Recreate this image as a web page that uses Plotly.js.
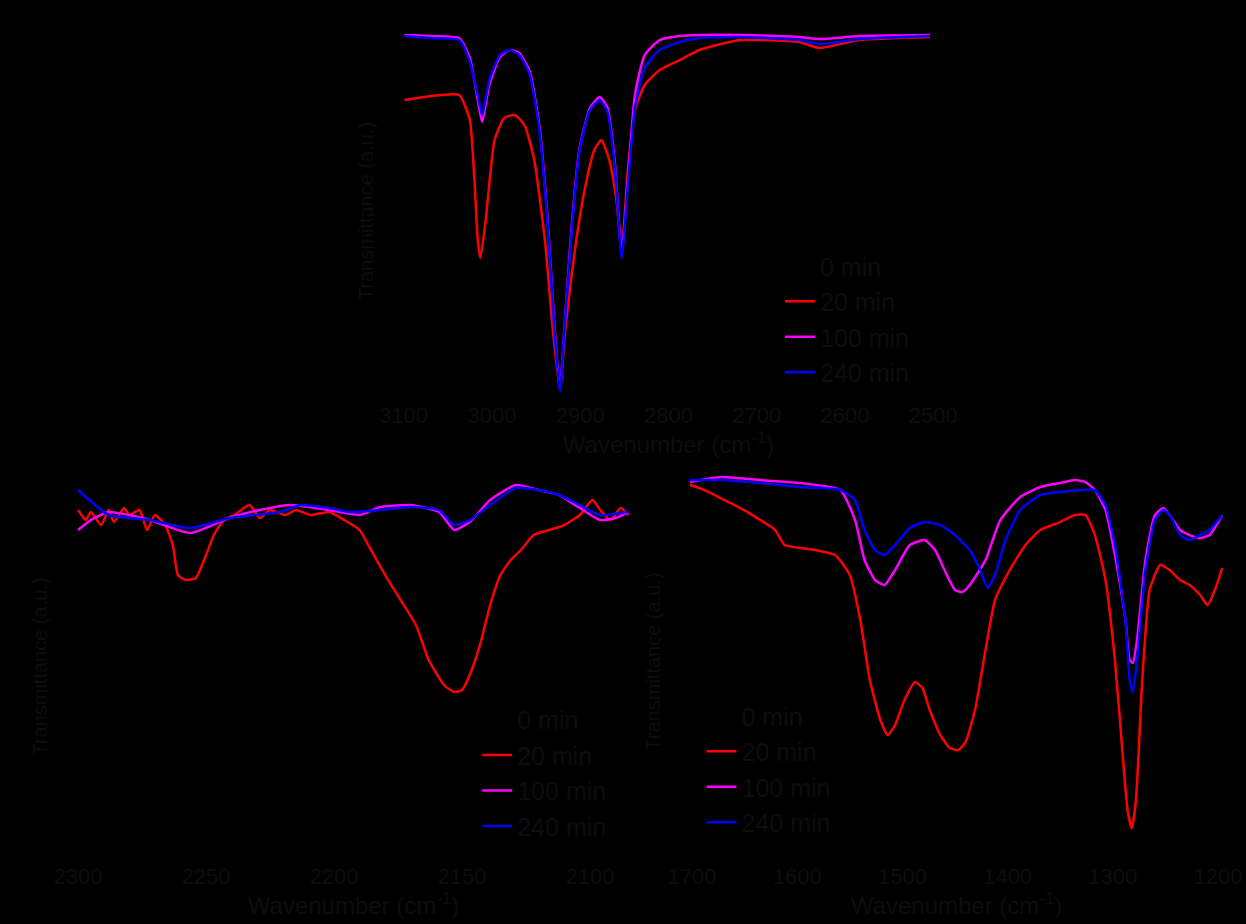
<!DOCTYPE html>
<html>
<head>
<meta charset="utf-8">
<script src="https://cdn.plot.ly/plotly-3.0.1.min.js"></script>
<style>html,body{margin:0;padding:0;background:#000;}#chart{width:1246px;height:924px;}</style>
</head>
<body>
<div id="chart"></div>
<script>
// ---------- Panel A: 3100-2500 cm-1 ----------
const topWnMB = [3099,3071,3037,3025,3016,3011,3003,2991,2980,2969,2957,2946,2937,2929,2923,2918,2910,2901,2889,2878,2869,2861,2853,2846,2838,2827,2810,2787,2765,2719,2652,2629,2584,2504];
const topT0   = [4.16,4.15,4.13,3.95,3.62,3.42,3.75,3.98,4.03,3.98,3.80,3.25,2.35,1.25,0.62,1.25,2.25,3.02,3.45,3.55,3.45,2.95,2.00,2.75,3.50,3.90,4.05,4.12,4.15,4.15,4.13,4.10,4.13,4.15];
const topT100 = [4.15,4.14,4.12,3.92,3.50,3.28,3.65,3.93,4.00,3.97,3.78,3.22,2.32,1.22,0.60,1.20,2.20,3.00,3.42,3.53,3.42,2.90,1.95,2.70,3.55,3.95,4.10,4.14,4.15,4.15,4.13,4.11,4.14,4.15];
const topT240 = [4.14,4.12,4.10,3.88,3.55,3.35,3.70,3.95,4.00,3.95,3.75,3.18,2.28,1.18,0.58,1.18,2.15,2.98,3.40,3.50,3.38,2.85,1.92,2.65,3.42,3.82,4.00,4.08,4.12,4.13,4.10,4.06,4.11,4.14];
const topWnR  = [3099,3059,3037,3025,3016,3013,3007,2997,2986,2974,2963,2952,2940,2931,2923,2917,2906,2895,2884,2876,2867,2859,2853,2846,2838,2827,2810,2787,2765,2719,2652,2629,2584,2504];
const topT20  = [3.50,3.55,3.55,3.30,2.10,1.92,2.30,3.10,3.32,3.35,3.25,2.90,2.10,1.20,0.60,1.20,2.00,2.60,3.00,3.10,2.90,2.50,2.00,2.80,3.40,3.65,3.80,3.90,4.00,4.10,4.08,4.02,4.10,4.13];

// ---------- Panel B: 2300-2085 cm-1 ----------
const blWnB = [2300,2288,2272,2256,2241,2221,2213,2202,2194,2182,2170,2159,2153,2147,2139,2129,2120,2112,2104,2096,2085];
const blT0   = [3.05,2.88,2.82,2.75,2.84,2.90,2.96,2.93,2.90,2.92,2.94,2.91,2.78,2.82,2.96,3.10,3.08,3.03,2.94,2.86,2.88];
const blT240 = [3.10,2.85,2.80,2.72,2.82,2.88,2.95,2.92,2.88,2.90,2.93,2.90,2.75,2.80,2.95,3.12,3.10,3.05,2.95,2.85,2.88];
const blWnM = [2300,2295,2288,2280,2272,2256,2241,2229,2217,2202,2190,2182,2170,2159,2153,2147,2139,2129,2120,2112,2104,2096,2090,2085];
const blT100 = [2.70,2.80,2.88,2.85,2.80,2.67,2.82,2.90,2.95,2.90,2.85,2.93,2.95,2.88,2.70,2.78,3.00,3.15,3.10,3.05,2.92,2.80,2.82,2.88];
const blWnR = [2300,2297,2295,2291,2288,2286,2282,2280,2276,2273,2270,2266,2263,2261,2258,2254,2250,2247,2243,2239,2233,2229,2225,2219,2215,2209,2202,2196,2190,2186,2180,2174,2168,2163,2157,2153,2150,2147,2143,2139,2135,2131,2127,2122,2116,2110,2104,2099,2096,2092,2088,2085];
const blT20  = [2.90,2.80,2.88,2.75,2.90,2.78,2.92,2.85,2.90,2.70,2.85,2.75,2.55,2.25,2.20,2.22,2.45,2.65,2.80,2.85,2.95,2.82,2.90,2.85,2.90,2.85,2.88,2.80,2.70,2.52,2.25,2.00,1.75,1.40,1.15,1.08,1.10,1.25,1.55,1.95,2.25,2.40,2.50,2.65,2.70,2.75,2.85,3.00,2.90,2.80,2.92,2.85];

// ---------- Panel C: 1700-1200 cm-1 ----------
const brWnB = [1702,1673,1635,1597,1559,1545,1536,1526,1517,1507,1493,1479,1464,1450,1436,1426,1419,1412,1402,1388,1369,1350,1331,1317,1307,1298,1288,1284,1281,1277,1269,1260,1252,1246,1236,1227,1217,1208,1196];
const brT0   = [4.22,4.21,4.18,4.15,4.12,4.03,3.75,3.55,3.50,3.58,3.75,3.80,3.78,3.68,3.55,3.35,3.18,3.30,3.63,3.92,4.07,4.10,4.12,4.11,3.97,3.58,2.85,2.25,2.12,2.45,3.35,3.82,3.92,3.87,3.68,3.62,3.67,3.72,3.86];
const brT240 = [4.20,4.20,4.17,4.13,4.10,4.00,3.70,3.50,3.45,3.55,3.72,3.78,3.75,3.65,3.50,3.30,3.12,3.25,3.60,3.90,4.05,4.08,4.10,4.10,3.95,3.55,2.80,2.20,2.08,2.40,3.30,3.80,3.90,3.85,3.65,3.60,3.65,3.70,3.85];
const brWnM = [1702,1673,1635,1597,1559,1545,1536,1526,1517,1507,1493,1479,1469,1460,1450,1443,1436,1421,1407,1388,1369,1350,1336,1326,1317,1307,1298,1288,1284,1281,1277,1269,1260,1252,1246,1236,1227,1217,1208,1196];
const brT100 = [4.18,4.23,4.20,4.17,4.10,3.80,3.40,3.20,3.15,3.30,3.55,3.60,3.50,3.30,3.10,3.08,3.15,3.40,3.80,4.03,4.13,4.17,4.20,4.18,4.10,3.90,3.45,2.80,2.40,2.37,2.60,3.40,3.85,3.92,3.85,3.70,3.65,3.62,3.65,3.85];
const brWnR = [1702,1688,1673,1654,1635,1621,1612,1597,1583,1564,1550,1540,1531,1521,1514,1507,1498,1488,1481,1474,1464,1455,1447,1440,1431,1421,1412,1398,1383,1369,1350,1336,1326,1317,1307,1298,1291,1286,1282,1278,1272,1265,1255,1246,1236,1227,1217,1210,1203,1196];
const brT20  = [4.15,4.10,4.02,3.92,3.80,3.70,3.55,3.52,3.50,3.45,3.25,2.80,2.20,1.80,1.65,1.75,2.00,2.18,2.12,1.90,1.65,1.52,1.50,1.58,1.90,2.50,3.00,3.30,3.55,3.70,3.78,3.85,3.85,3.65,3.20,2.40,1.50,0.90,0.72,1.00,2.20,3.10,3.35,3.30,3.20,3.15,3.05,2.95,3.10,3.32];

const seriesNames = ['0 min','20 min','100 min','240 min'];
const seriesColors = ['#000000','#ff0000','#ff00ff','#0000ff'];
const xTitle = 'Wavenumber (cm<sup>-1</sup>)';
const yTitle = 'Transmittance (a.u.)';

const txt = '#0d0d0d';
const fnt = 'Liberation Sans Narrow, Liberation Sans, Arial, sans-serif';

function mk(x, y, i, xa, ya, leg) {
  return {x: x, y: y, type: 'scatter', mode: 'lines', name: seriesNames[i],
    line: {color: seriesColors[i], width: 2.5, shape: 'spline', smoothing: 0.5},
    xaxis: xa, yaxis: ya, legend: leg};
}

const data = [
  mk(topWnMB, topT0, 0, 'x', 'y', 'legend'),
  mk(topWnR, topT20, 1, 'x', 'y', 'legend'),
  mk(topWnMB, topT100, 2, 'x', 'y', 'legend'),
  mk(topWnMB, topT240, 3, 'x', 'y', 'legend'),
  mk(blWnB, blT0, 0, 'x2', 'y2', 'legend2'),
  mk(blWnR, blT20, 1, 'x2', 'y2', 'legend2'),
  mk(blWnM, blT100, 2, 'x2', 'y2', 'legend2'),
  mk(blWnB, blT240, 3, 'x2', 'y2', 'legend2'),
  mk(brWnB, brT0, 0, 'x3', 'y3', 'legend3'),
  mk(brWnR, brT20, 1, 'x3', 'y3', 'legend3'),
  mk(brWnM, brT100, 2, 'x3', 'y3', 'legend3'),
  mk(brWnB, brT240, 3, 'x3', 'y3', 'legend3')
];

function xax(dom, range, dtick, anchor) {
  return {domain: dom, range: range, anchor: anchor, dtick: dtick, tick0: 0,
    showgrid: false, zeroline: false, showline: true, linecolor: '#000', linewidth: 1.5,
    ticks: 'outside', tickcolor: '#000', ticklen: 3,
    tickfont: {family: fnt, size: 22, color: txt},
    title: {text: xTitle, font: {family: fnt, size: 24, color: txt}, standoff: 2}};
}
function yax(dom, range, anchor) {
  return {domain: dom, range: range, anchor: anchor, showticklabels: false,
    showgrid: false, zeroline: false, showline: true, linecolor: '#000', linewidth: 1.5, ticks: '',
    title: {text: yTitle, font: {family: fnt, size: 20, color: txt}, standoff: 20}};
}
function leg(x, y) {
  return {x: x, y: y, xanchor: 'left', yanchor: 'top', bgcolor: 'rgba(0,0,0,0)',
    font: {family: fnt, size: 25, color: txt}, tracegroupgap: 0, itemwidth: 30};
}

const layout = {
  width: 1246, height: 924,
  paper_bgcolor: '#000', plot_bgcolor: '#000',
  margin: {l: 0, r: 0, t: 0, b: 0},
  showlegend: true,
  xaxis:  xax([0.3218, 0.7512], [3103, 2497], 100, 'y'),
  yaxis:  yax([0.5757, 0.9675], [0.58, 4.2], 'x'),
  xaxis2: xax([0.0602, 0.5072], [2301.2, 2083.6], 50, 'y2'),
  yaxis2: yax([0.0768, 0.4805], [-0.53, 3.2], 'x2'),
  xaxis3: xax([0.5522, 0.9832], [1703.8, 1193.3], 100, 'y3'),
  yaxis3: yax([0.0768, 0.4913], [0.47, 4.3], 'x3'),
  legend:  leg(0.626, 0.737),
  legend2: leg(0.383, 0.246),
  legend3: leg(0.563, 0.250)
};

Plotly.newPlot('chart', data, layout, {displayModeBar: false, staticPlot: true});
</script>
</body>
</html>
